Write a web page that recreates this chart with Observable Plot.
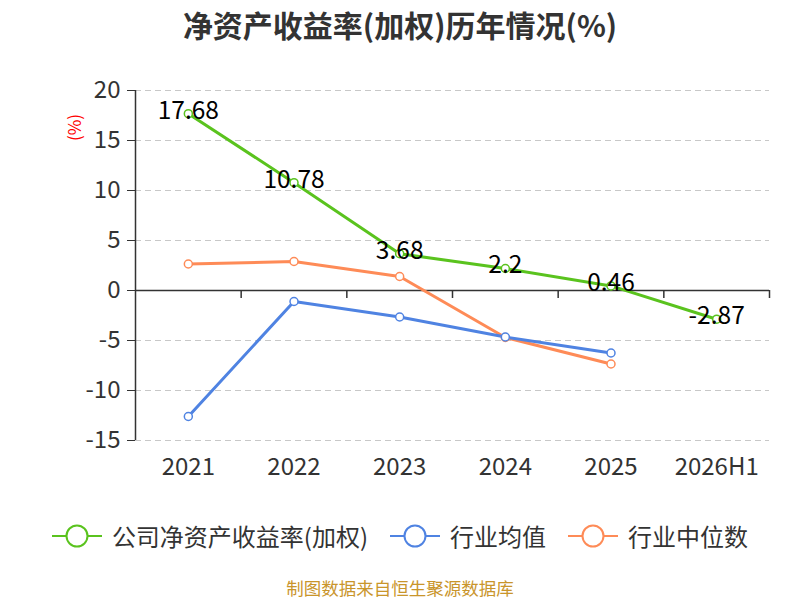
<!DOCTYPE html>
<html>
<head>
<meta charset="utf-8">
<script src="https://cdn.jsdelivr.net/npm/d3@7"></script>
<script src="https://cdn.jsdelivr.net/npm/@observablehq/plot@0.6"></script>
<style>
  body { margin:0; width:800px; height:600px; position:relative; background:#fff; overflow:hidden;
         font-family: "Noto Sans CJK SC", "Noto Sans", sans-serif; }
  #title { position:absolute; top:2px; left:0; width:800px; text-align:center; font-size:30px; font-weight:bold; color:#333; }
  #chart { position:absolute; top:60px; left:0; }
  #ylab { position:absolute; left:58px; top:115px; width:30px; text-align:center; color:#f00; font-size:17px; transform:rotate(-90deg); }
  #legend { position:absolute; top:518px; left:0; width:800px; display:flex; justify-content:center; align-items:center; font-size:24px; color:#333; }
  .item { display:flex; align-items:center; margin:0 11px; }
  .item span { margin-left:10px; }
  #footer { position:absolute; top:578px; left:0; width:800px; height:19px; line-height:19px; text-align:center; font-size:17.5px; color:#c9952b; }
</style>
</head>
<body>
<div id="title">净资产收益率(加权)历年情况(%)</div>
<div id="ylab">(%)</div>
<div id="chart"></div>
<div id="legend"></div>
<div id="footer">制图数据来自恒生聚源数据库</div>
<script>
const years = ["2021", "2022", "2023", "2024", "2025", "2026H1"];
const company = [17.68, 10.78, 3.68, 2.2, 0.46, -2.87];
const industryMean = [-12.6, -1.1, -2.65, -4.65, -6.25];
const industryMedian = [2.65, 2.9, 1.4, -4.7, -7.35];
const yTicks = [-15, -10, -5, 0, 5, 10, 15, 20];
const seriesNames = ["公司净资产收益率(加权)", "行业均值", "行业中位数"];
const colors = ["#5ac31e", "#4f83e2", "#fe8b57"];

const toRows = (vals) => vals.map((v, i) => ({x: i + 0.5, y: v}));
const compRows = toRows(company);
const meanRows = toRows(industryMean);
const medRows = toRows(industryMedian);
const boundaries = d3.range(years.length + 1);
const centers = years.map((_, i) => i + 0.5);

const chart = Plot.plot({
  width: 800,
  height: 450,
  marginTop: 30,
  marginBottom: 70,
  marginLeft: 135,
  marginRight: 31,
  style: {fontFamily: "'Noto Sans CJK SC', 'Noto Sans', sans-serif", background: "transparent"},
  x: {type: "linear", domain: [0, years.length]},
  y: {domain: [-15, 20]},
  marks: [
    Plot.ruleY(yTicks.filter(d => d !== 0), {stroke: "#c8c8c8", strokeWidth: 1.2, strokeDasharray: "6,4"}),
    Plot.ruleY([0], {stroke: "#333", strokeWidth: 1.5}),
    Plot.ruleX(boundaries.slice(1), {y1: 0, y2: -0.8, stroke: "#333", strokeWidth: 1.5}),
    Plot.ruleX([0], {stroke: "#333", strokeWidth: 1.5}),
    Plot.axisY({ticks: yTicks, tickSize: 8, tickPadding: 7, fontSize: 24, color: "#333", label: null, tickFormat: d => d}),
    Plot.axisX({ticks: centers, tickSize: 0, tickPadding: 17, fontSize: 24, color: "#333", label: null, tickFormat: d => years[Math.floor(d)]}),
    Plot.line(medRows, {x: "x", y: "y", stroke: colors[2], strokeWidth: 3}),
    Plot.line(meanRows, {x: "x", y: "y", stroke: colors[1], strokeWidth: 3}),
    Plot.line(compRows, {x: "x", y: "y", stroke: colors[0], strokeWidth: 3}),
    Plot.dot(medRows, {x: "x", y: "y", r: 4, fill: "#fff", stroke: colors[2], strokeWidth: 1.5}),
    Plot.dot(meanRows, {x: "x", y: "y", r: 4, fill: "#fff", stroke: colors[1], strokeWidth: 1.5}),
    Plot.dot(compRows, {x: "x", y: "y", r: 4, fill: "#fff", stroke: colors[0], strokeWidth: 1.5}),
    Plot.text(compRows, {x: "x", y: "y", text: d => String(d.y), fontSize: 24.5, fill: "#000", dy: -3, textAnchor: "middle", lineAnchor: "middle"})
  ]
});
document.getElementById("chart").appendChild(chart);

const legend = document.getElementById("legend");
seriesNames.forEach((name, i) => {
  const item = document.createElement("div");
  item.className = "item";
  item.innerHTML = `<svg width="50" height="26"><line x1="0" y1="13" x2="50" y2="13" stroke="${colors[i]}" stroke-width="2"/><circle cx="25" cy="13" r="10.5" fill="#fff" stroke="${colors[i]}" stroke-width="2"/></svg><span>${name}</span>`;
  legend.appendChild(item);
});
</script>
</body>
</html>
